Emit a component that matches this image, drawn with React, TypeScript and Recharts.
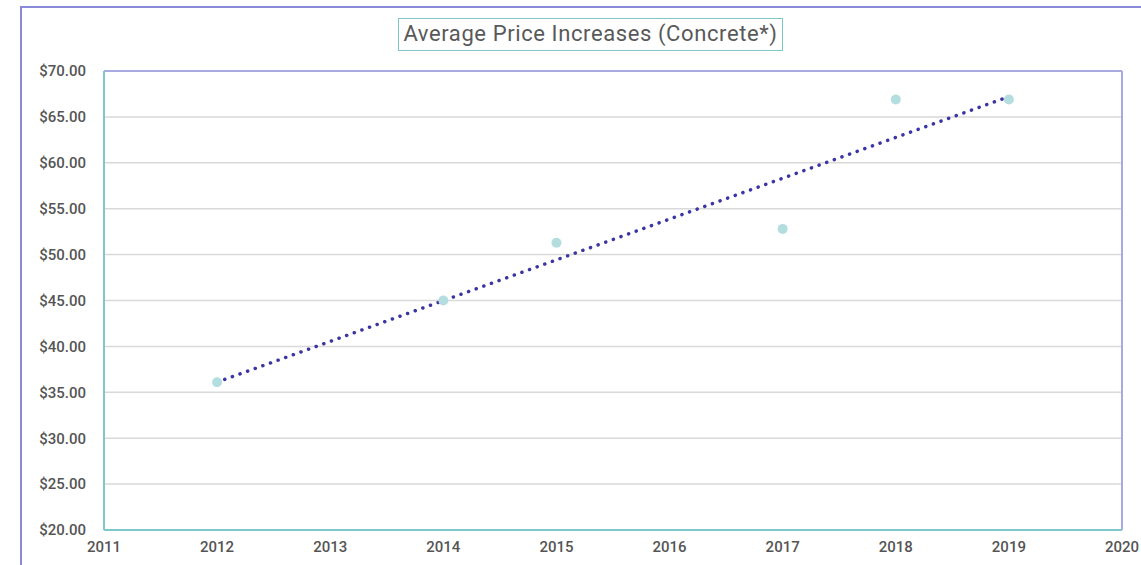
import { ComposedChart, Scatter, Line, XAxis, YAxis, CartesianGrid, ReferenceLine } from "recharts";

const years = [2012, 2014, 2015, 2017, 2018, 2019];
const prices = [36.1, 45.0, 51.3, 52.8, 66.9, 66.9];
const trendYears = [2012, 2019];
const trendPrices = [36.1, 67.2];
const xTicks = [2011, 2012, 2013, 2014, 2015, 2016, 2017, 2018, 2019, 2020];
const yTicks = [20, 25, 30, 35, 40, 45, 50, 55, 60, 65, 70];

const points = years.map((year, i) => ({ year, price: prices[i] }));
const trend = trendYears.map((year, i) => ({ year, price: trendPrices[i] }));

const tickStyle = { fontSize: 15, fontWeight: 500, fill: "#555555", fontFamily: "Roboto" };

export default function App() {
  return (
    <div style={{ position: "absolute", left: 0, top: 0, width: 1141, height: 565, background: "#fff", overflow: "hidden" }}>
      <div
        style={{
          position: "absolute",
          left: 20,
          top: 6,
          width: 1200,
          height: 620,
          border: "2px solid #8a8ad8",
          boxSizing: "border-box",
        }}
      />
      <div
        style={{
          position: "absolute",
          left: 398,
          top: 18,
          width: 385,
          height: 33,
          border: "1.5px solid #7ec8cc",
          boxSizing: "border-box",
          fontFamily: "Roboto",
          fontSize: 22,
          letterSpacing: 0.6,
          color: "#595959",
          textAlign: "center",
          lineHeight: "30px",
          whiteSpace: "nowrap",
        }}
      >
        Average Price Increases (Concrete*)
      </div>
      <div style={{ position: "absolute", left: 0, top: 0 }}>
        <ComposedChart width={1141} height={565} margin={{ top: 71, right: 19, left: 0, bottom: 0 }}>
          <CartesianGrid vertical={false} stroke="#d9d9d9" strokeWidth={1.5} />
          <XAxis
            dataKey="year"
            type="number"
            domain={[2011, 2020]}
            ticks={xTicks}
            allowDuplicatedCategory={false}
            height={35}
            tickLine={false}
            tickSize={0}
            tickMargin={11}
            axisLine={{ stroke: "#7ec8cc", strokeWidth: 2 }}
            tick={tickStyle}
          />
          <YAxis
            dataKey="price"
            type="number"
            domain={[20, 70]}
            ticks={yTicks}
            width={104}
            tickLine={false}
            tickSize={0}
            tickMargin={18}
            axisLine={{ stroke: "#7ec8cc", strokeWidth: 2 }}
            tick={tickStyle}
            tickFormatter={(v: number) => `$${v.toFixed(2)}`}
          />
          <ReferenceLine y={70} stroke="#a9a9e2" strokeWidth={2} />
          <ReferenceLine x={2020} stroke="#a9a9e2" strokeWidth={2} />
          <Scatter data={points} dataKey="price" fill="#b4dde0" isAnimationActive={false} shape={(p: any) => <circle cx={p.cx} cy={p.cy} r={5} fill="#b4dde0" />} />
          <Line
            data={trend}
            dataKey="price"
            stroke="#3b35a3"
            strokeWidth={3.5}
            strokeDasharray="0.1 8"
            strokeLinecap="round"
            dot={false}
            activeDot={false}
            isAnimationActive={false}
          />
        </ComposedChart>
      </div>
    </div>
  );
}
